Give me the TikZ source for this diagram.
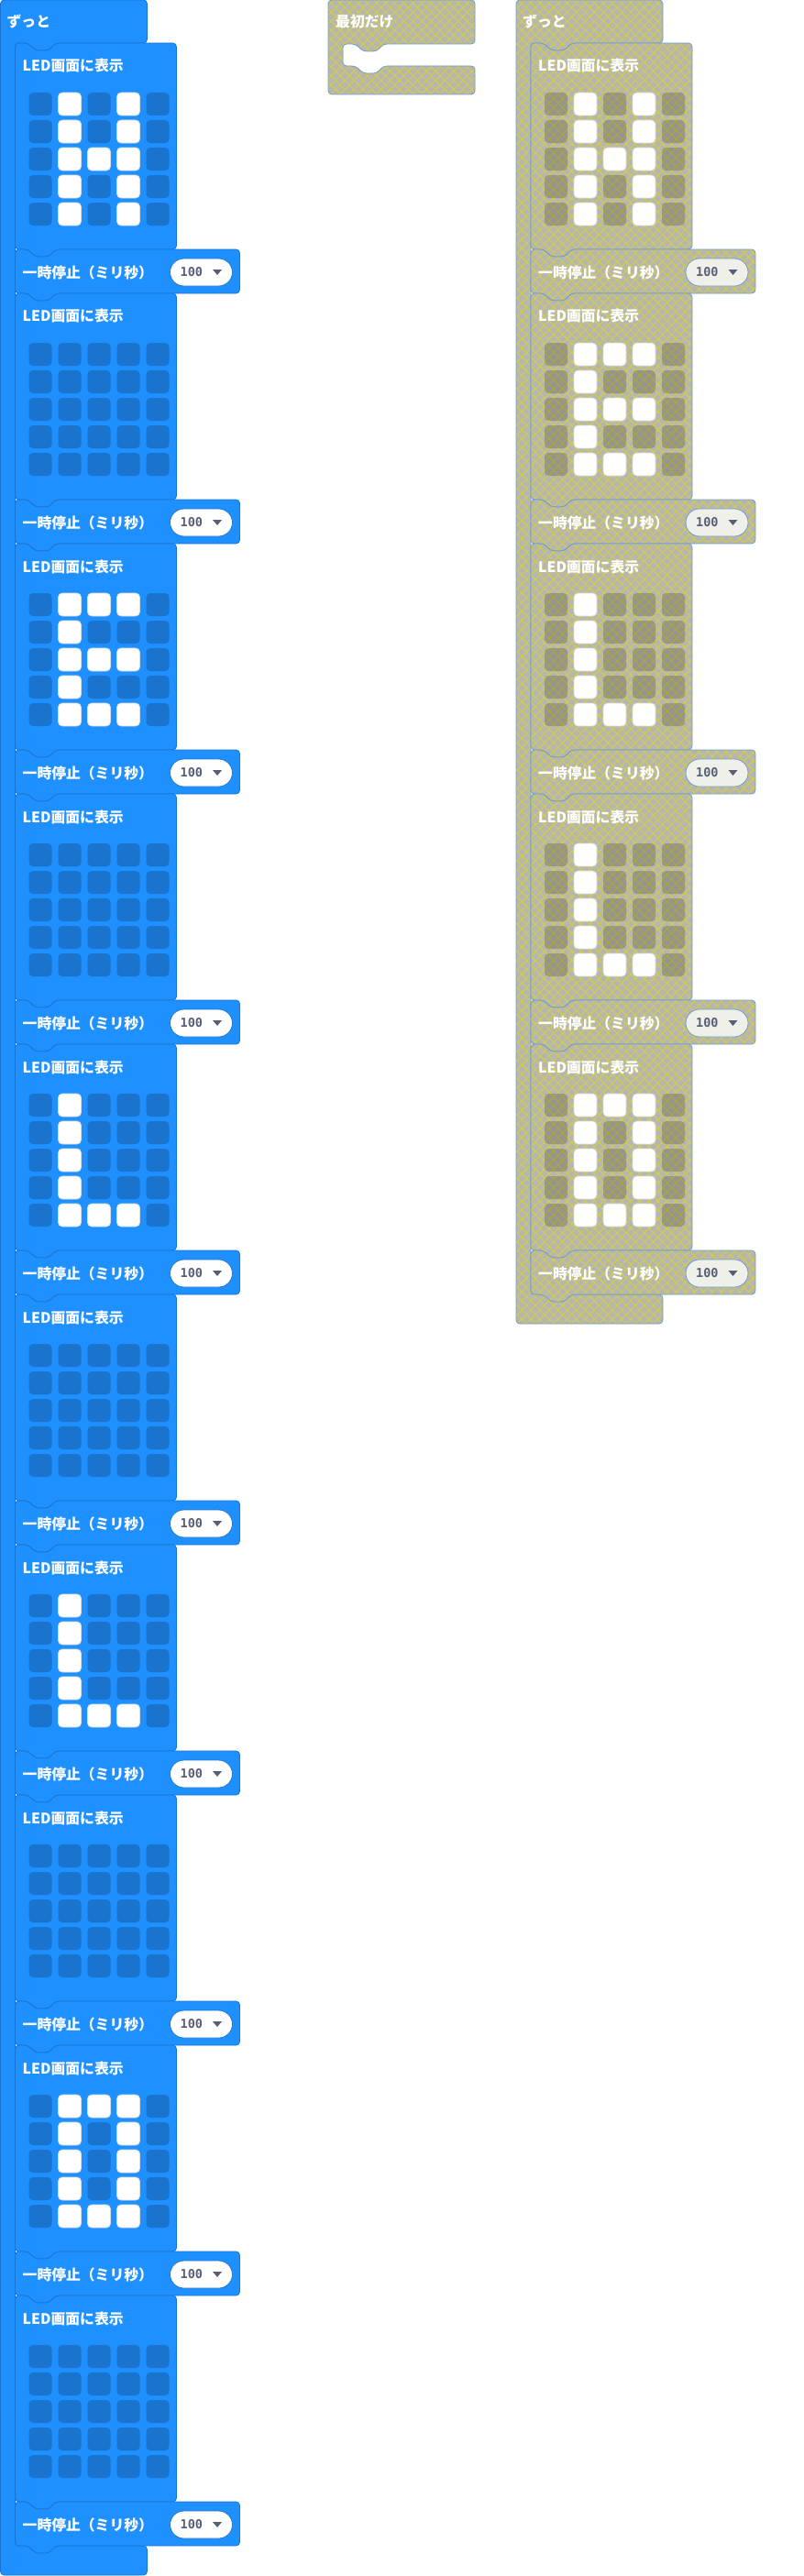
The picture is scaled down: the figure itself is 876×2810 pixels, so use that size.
\documentclass[tikz,border=0pt]{standalone}
\usepackage{fontspec}
\newfontfamily\jpfont{Noto Sans CJK JP}
\newfontfamily\numfont{DejaVu Sans Mono}
\usetikzlibrary{patterns.meta}

\definecolor{mbblue}{HTML}{1E90FF}
\definecolor{mbedge}{HTML}{1B74CF}
\definecolor{mboff}{HTML}{1A73CC}
\definecolor{gfill}{HTML}{B6B6B0}
\definecolor{gedge}{HTML}{6B9BD2}
\definecolor{hatch}{HTML}{D8D03A}
\definecolor{gpillc}{HTML}{F0F0EA}
\definecolor{numc}{HTML}{575E75}
\definecolor{onedge}{HTML}{D5DCE4}

% lit cells of each frame (column/row), N = blank
\def\letH{1/0,3/0,1/1,3/1,1/2,2/2,3/2,1/3,3/3,1/4,3/4}
\def\letE{1/0,2/0,3/0,1/1,1/2,2/2,3/2,1/3,1/4,2/4,3/4}
\def\letL{1/0,1/1,1/2,1/3,1/4,2/4,3/4}
\def\letO{1/0,2/0,3/0,1/1,3/1,1/2,3/2,1/3,3/3,1/4,2/4,3/4}
\def\letN{9/9}

% statement block with notch on top and tab below: style, x, y, width, height
\newcommand\stmt[5]{%
  \draw[#1] (#2,#3) -- (#2+14,#3) -- (#2+22,#3+8) -- (#2+37,#3+8) -- (#2+44,#3)
    -- (#2+#4,#3) -- (#2+#4,#3+#5) -- (#2+44,#3+#5) -- (#2+37,#3+#5+8)
    -- (#2+22,#3+#5+8) -- (#2+14,#3+#5) -- (#2,#3+#5) -- cycle;}

% loop block: style, x, bottom of the inner stack
\newcommand\loopblk[3]{%
  \draw[#1] (#2,0) -- (#2+160,0) -- (#2+160,47) -- (#2+60,47) -- (#2+53,55)
    -- (#2+38,55) -- (#2+30,47) -- (#2+16,47) -- (#2+16,#3) -- (#2+160,#3)
    -- (#2+160,#3+32) -- (#2,#3+32) -- cycle;}

% 5x5 leds: x, y, off style, frame
\newcommand\ledgrid[4]{%
  \foreach \c in {0,...,4}
    \foreach \r in {0,...,4}
      \path[#3] (#1+15+32*\c,#2+54+30*\r) rectangle ++(25,25);
  \expandafter\let\expandafter\on\csname let#4\endcsname
  \foreach \c/\r in \on {
    \ifnum\c<5 \draw[ledon] (#1+15+32*\c,#2+54+30*\r) rectangle ++(25,25);\fi
  }}

\begin{document}
\begin{tikzpicture}
  [x=1pt,y=-1pt,every node/.style={inner sep=0pt},
   hatched/.style={preaction={fill=#1},
     preaction={pattern={Lines[angle=45,distance=7pt,line width=.8pt]},pattern color=hatch},
     pattern={Lines[angle=-45,distance=7pt,line width=.8pt]},pattern color=hatch},
   bblock/.style={fill=mbblue,draw=mbedge,line width=.8pt,rounded corners=4pt},
   gblock/.style={hatched=gfill,draw=gedge,line width=.8pt,rounded corners=4pt},
   boff/.style={fill=mboff,rounded corners=4.5pt},
   goff/.style={fill=black,fill opacity=.18,rounded corners=4.5pt},
   ledon/.style={fill=white,draw=onedge,line width=.8pt,rounded corners=4.5pt},
   lbl/.style={anchor=west,text=white,font=\jpfont\bfseries\fontsize{15.8}{16}\selectfont},
   bpill/.style={fill=white,draw=mbedge,line width=.8pt,rounded corners=15pt,minimum width=68,minimum height=30},
   gpill/.style={fill=gpillc,draw=gedge,line width=.8pt,rounded corners=15pt,minimum width=68,minimum height=30},
   num/.style={anchor=west,text=numc,font=\numfont\bfseries\fontsize{13.5}{14}\selectfont}]
  \useasboundingbox (0,0) rectangle (876,2810);

  % left: forever
  \loopblk{bblock}{0.5}{2777}
  \node[lbl] (foreverL) at (7.5,23) {ずっと};
  \foreach \t [count=\i from 0] in {H,N,E,N,L,N,L,N,O,N} {
    \pgfmathsetmacro\y{47+273*\i}
    \pgfmathsetmacro\p{272+273*\i}
    \stmt{bblock}{16.5}{\y}{176}{225}
    \node[lbl] (showL\i) at (24.5,\y+25) {LED画面に表示};
    \ledgrid{16.5}{\y}{boff}{\t}
    \stmt{bblock}{16.5}{\p}{245}{48}
    \node[lbl] (pauseL\i) at (24.5,\p+25) {一時停止（ミリ秒）};
    \node[bpill] (pillL\i) at (219.5,\p+25) {};
    \node[num] (msL\i) at (196.5,\p+25) {100};
    \fill[numc] (232,\p+22) -- (242,\p+22) -- (237,\p+28) -- cycle;
  }

  % on start, empty
  \draw[gblock] (358,0) -- (518,0) -- (518,48) -- (418,48) -- (411,56) -- (396,56)
    -- (388,48) -- (374,48) -- (374,72) -- (388,72) -- (396,80) -- (411,80)
    -- (418,72) -- (518,72) -- (518,103) -- (358,103) -- cycle;
  \node[lbl] (start) at (366,24) {最初だけ};

  % right: forever, disabled
  \loopblk{gblock}{563}{1412}
  \node[lbl] (foreverR) at (570,23) {ずっと};
  \foreach \t [count=\i from 0] in {H,E,L,L,O} {
    \pgfmathsetmacro\y{47+273*\i}
    \pgfmathsetmacro\p{272+273*\i}
    \stmt{gblock}{579}{\y}{176}{225}
    \node[lbl] (showR\i) at (587,\y+25) {LED画面に表示};
    \ledgrid{579}{\y}{goff}{\t}
    \stmt{gblock}{579}{\p}{245}{48}
    \node[lbl] (pauseR\i) at (587,\p+25) {一時停止（ミリ秒）};
    \node[gpill] (pillR\i) at (782,\p+25) {};
    \node[num] (msR\i) at (759,\p+25) {100};
    \fill[numc] (794.5,\p+22) -- (804.5,\p+22) -- (799.5,\p+28) -- cycle;
  }
\end{tikzpicture}
\end{document}
